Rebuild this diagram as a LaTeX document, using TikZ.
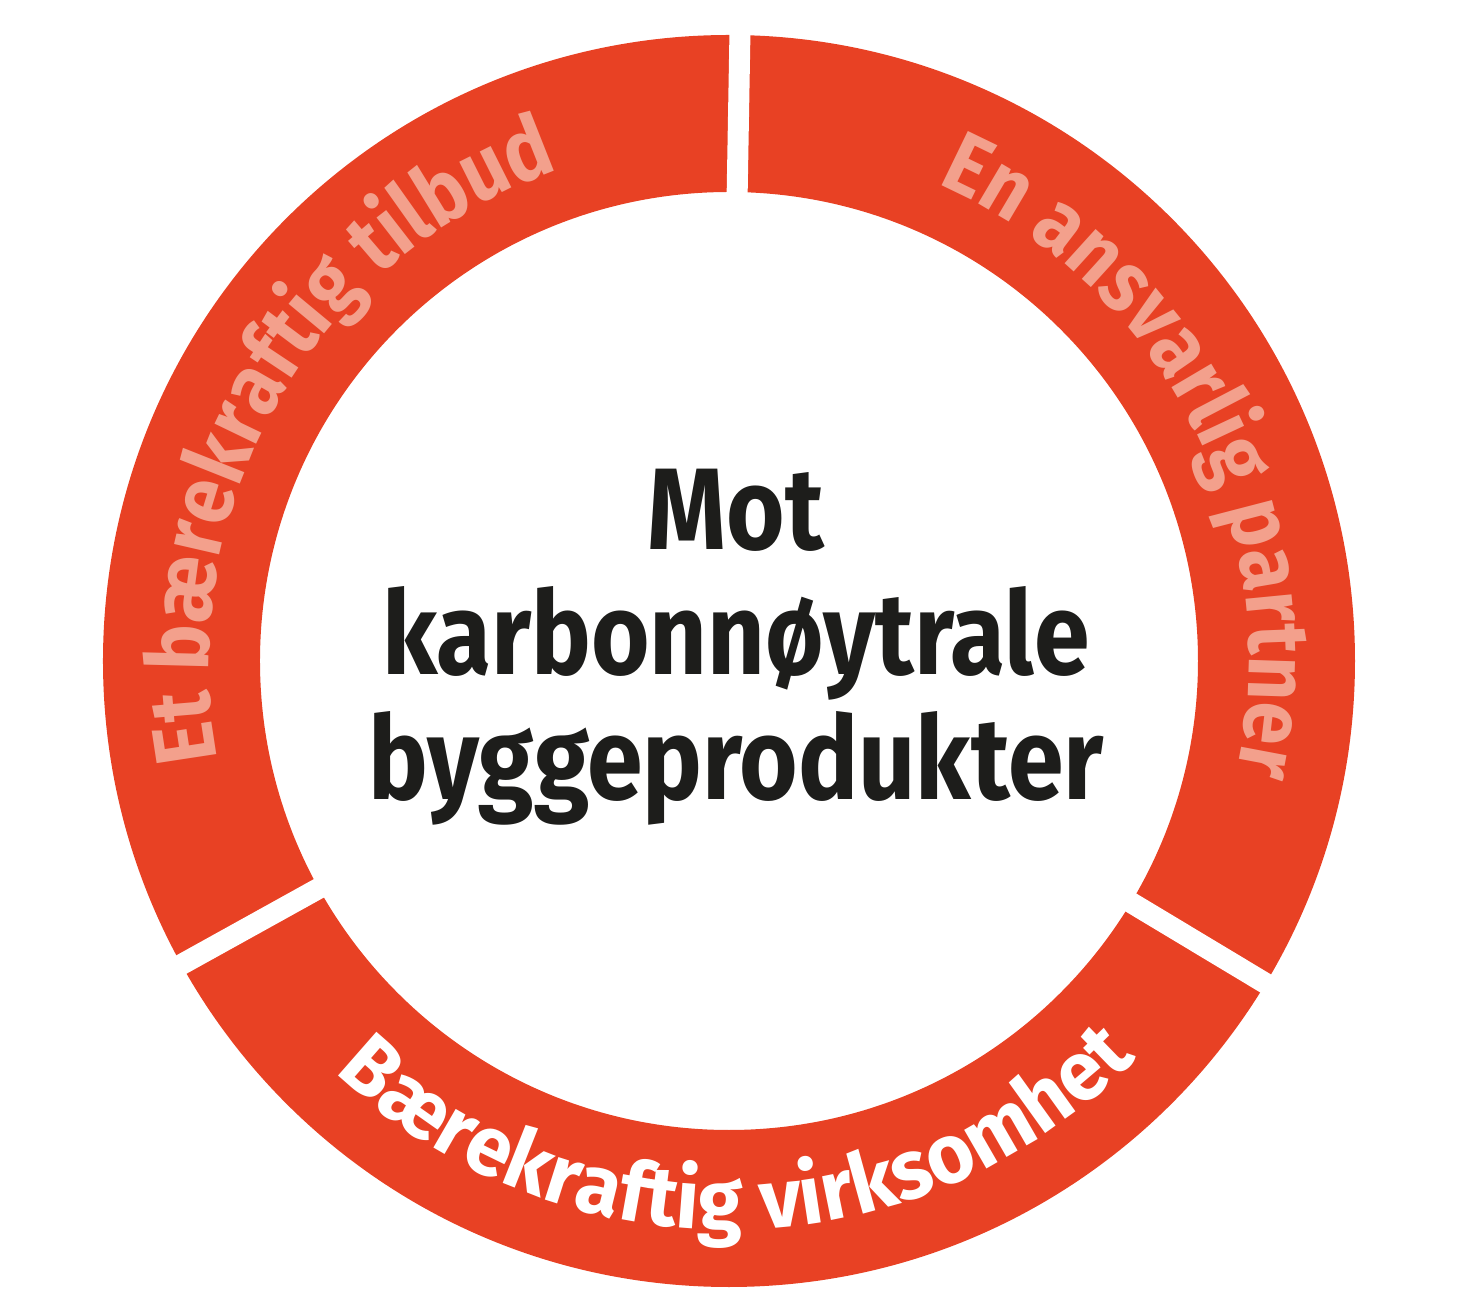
\documentclass[tikz,border=0pt]{standalone}
\usepackage{fontspec}
\setmainfont{Fira Sans}
\newfontfamily\centerfont{Fira Sans}[FakeStretch=0.865]
\newfontfamily\arcfont{Fira Sans}[FakeStretch=0.89]
\newfontfamily\arcfontwide{Fira Sans}[FakeStretch=0.97]
\usetikzlibrary{decorations.text}
\definecolor{ringred}{RGB}{232,65,36}
\definecolor{salmon}{RGB}{243,160,140}
\definecolor{ink}{RGB}{29,29,27}
\begin{document}
\begin{tikzpicture}[x=1pt,y=1pt,
  centertext/.style={anchor=base,inner sep=0pt,text=ink,font=\centerfont\bfseries\fontsize{116}{116}\selectfont},
  gapstrip/.style={fill=white}]
\useasboundingbox (-729,-631) rectangle (728,661);
\fill[ringred,even odd rule] (0,0) circle[radius=626] (0,0) circle[radius=469];
\foreach \a in {89,209,329} \fill[gapstrip,rotate=\a] (400,-10.5) rectangle (660,10.5);
\path[decorate,decoration={text along path,text align=center,
  text={|\arcfont\bfseries\fontsize{87}{87}\selectfont\color{salmon}|Et bærekraftig tilbud}}]
  (210:520) arc[start angle=210,end angle=90,radius=520];
\path[decorate,decoration={text along path,text align=center,
  text={|\arcfont\bfseries\fontsize{87}{87}\selectfont\color{salmon}|En ansvarlig partner}}]
  (87:520) arc[start angle=87,end angle=-33,radius=520];
\path[decorate,decoration={text along path,text align=center,
  text={|\arcfontwide\bfseries\fontsize{84}{84}\selectfont\color{white}|Bærekraftig virksomhet}}]
  (211:569) arc[start angle=211,end angle=331,radius=569];
\node[centertext] (l1) at (7,111) {Mot};
\node[centertext] (l2) at (7,-14) {karbonnøytrale};
\node[centertext] (l3) at (7,-139) {byggeprodukter};
\end{tikzpicture}
\end{document}
